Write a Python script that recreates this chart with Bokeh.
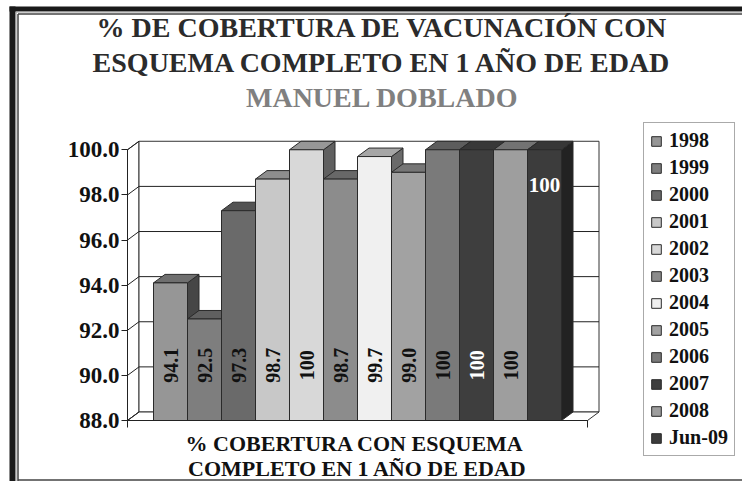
import math
from bokeh.plotting import figure
from bokeh.models import (Range1d, LinearAxis, FixedTicker, PrintfTickFormatter,
                          CustomJSTickFormatter, ColumnDataSource, Label, Legend, LegendItem)
from bokeh.core.properties import value
from bokeh.embed import file_html
from bokeh.resources import INLINE

# ---------------- data ----------------
years = ["1998", "1999", "2000", "2001", "2002", "2003", "2004", "2005",
         "2006", "2007", "2008", "Jun-09"]
coverage = [94.1, 92.5, 97.3, 98.7, 100, 98.7, 99.7, 99.0, 100, 100, 100, 100]
value_labels = ["94.1", "92.5", "97.3", "98.7", "100", "98.7", "99.7", "99.0",
                "100", "100", "100", "100"]
y_ticks = [88, 90, 92, 94, 96, 98, 100]
title_lines = ["% DE COBERTURA DE VACUNACIÓN CON",
               "ESQUEMA COMPLETO EN 1 AÑO DE EDAD",
               "MANUEL DOBLADO"]
x_label_lines = ["%  COBERTURA CON ESQUEMA", "COMPLETO EN 1 AÑO DE EDAD"]

# ---------------- styles ----------------
face_colors = ["#969696", "#7e7e7e", "#6a6a6a", "#c8c8c8", "#d8d8d8", "#8c8c8c",
               "#f0f0f0", "#a2a2a2", "#7a7a7a", "#3e3e3e", "#9e9e9e", "#3c3c3c"]
label_colors = ["#111111"] * 9 + ["#ffffff", "#111111", "#ffffff"]
FONT = "Liberation Serif"


def shade(c, k, b):
    v = int(c[1:3], 16)
    n = max(0, min(255, int(v * k + b)))
    return "#%02x%02x%02x" % (n, n, n)


top_colors = [shade(c, 0.62, 18) for c in face_colors]
side_colors = [shade(c, 0.4, 10) for c in face_colors]

# ---------------- layout (pixels) ----------------
W, H = 742, 481
AX0, AY0 = 127, 420          # pixel of the front-left floor corner (value 88)
PX_X, PX_Y = 34.0, 22.56     # pixels per bar unit / per percentage point
Y0 = y_ticks[0]


def X(px):
    return (px - AX0) / PX_X


def Y(py):
    return Y0 + (AY0 - py) / PX_Y


DX = 11.5 / PX_X
DY = 8.5 / PX_Y
GAP = 26 / PX_X
n = len(coverage)
F = 2 * GAP + n
YT = y_ticks[-1]

p = figure(width=W, height=H, x_range=Range1d(X(0), X(W)), y_range=Range1d(Y(H), Y(0)),
           output_backend="svg", toolbar_location=None,
           x_axis_location=None, y_axis_location=None, min_border=0,
           outline_line_color=None, background_fill_color="white",
           border_fill_color="white")
p.grid.visible = False

# page frame
p.quad(left=X(9), right=X(15), bottom=Y(H + 5), top=Y(6), fill_color="#1a1a1a", line_color=None)
p.quad(left=X(9), right=X(W + 5), bottom=Y(11), top=Y(6), fill_color="#1a1a1a", line_color=None)
p.line([X(15.5), X(15.5)], [Y(H + 5), Y(11.5)], line_color="#9a9a9a", line_width=1)
p.line([X(15.5), X(W + 5)], [Y(11.5), Y(11.5)], line_color="#9a9a9a", line_width=1)
p.line([X(17.5), X(17.5)], [Y(H + 5), Y(13.5)], line_color="#444444", line_width=1.5)
p.line([X(17.5), X(W + 5)], [Y(13.5), Y(13.5)], line_color="#444444", line_width=1.5)
p.line([X(17.5), X(W + 5)], [Y(479.5), Y(479.5)], line_color="#444444", line_width=1.5)

# walls
wall = dict(fill_color="white", line_color="#333333", line_width=1)
p.patch([0, 0, DX, DX], [Y0, YT, YT + DY, Y0 + DY], **wall)
p.quad(left=DX, right=F + DX, bottom=Y0 + DY, top=YT + DY, **wall)
p.patch([0, F, F + DX, DX], [Y0, Y0, Y0 + DY, Y0 + DY], **wall)
grid_t = y_ticks[1:-1]
p.segment(x0=[DX] * len(grid_t), x1=[F + DX] * len(grid_t),
          y0=[t + DY for t in grid_t], y1=[t + DY for t in grid_t],
          line_color="#222222", line_width=1)
p.segment(x0=[0] * len(y_ticks), x1=[DX] * len(y_ticks),
          y0=y_ticks, y1=[t + DY for t in y_ticks], line_color="#222222", line_width=1)

# bars (3D: sides, tops, fronts)
lefts = [GAP + i for i in range(n)]
rights = [l + 1 for l in lefts]
side_src = ColumnDataSource(dict(
    xs=[[r, r + DX, r + DX, r] for r in rights],
    ys=[[Y0, Y0 + DY, v + DY, v] for v in coverage],
    c=side_colors))
top_src = ColumnDataSource(dict(
    xs=[[l, r, r + DX, l + DX] for l, r in zip(lefts, rights)],
    ys=[[v, v, v + DY, v + DY] for v in coverage],
    c=top_colors))
p.patches("xs", "ys", source=side_src, fill_color="c", line_color="#2a2a2a", line_width=1)
p.patches("xs", "ys", source=top_src, fill_color="c", line_color="#2a2a2a", line_width=1)
front_src = ColumnDataSource(dict(left=lefts, right=rights, top=coverage,
                                  bottom=[Y0] * n, c=face_colors, year=years))
fronts = p.quad(left="left", right="right", top="top", bottom="bottom", source=front_src,
                fill_color="c", line_color="#2a2a2a", line_width=1)

# value labels
centers = [l + 0.5 for l in lefts]
rot_src = ColumnDataSource(dict(x=centers[:-1], y=[90.45] * (n - 1),
                                t=value_labels[:-1], c=label_colors[:-1]))
p.text("x", "y", text="t", source=rot_src, angle=math.pi / 2, text_color="c",
       text_font=value(FONT), text_font_style="bold", text_font_size="20px",
       text_align="center", text_baseline="middle")
p.add_layout(Label(x=centers[-1], y=98.42, text=value_labels[-1], text_color=label_colors[-1],
                   text_font=FONT, text_font_style="bold", text_font_size="21px",
                   text_align="center", text_baseline="middle"))

# axes
yaxis = LinearAxis(fixed_location=0, ticker=FixedTicker(ticks=y_ticks),
                   formatter=PrintfTickFormatter(format="%.1f"), bounds=(Y0, YT),
                   axis_line_color="#222222", major_tick_line_color="#222222",
                   major_tick_in=0, major_tick_out=6, minor_tick_line_color=None,
                   major_label_standoff=2, major_label_text_font=FONT,
                   major_label_text_font_style="bold", major_label_text_font_size="23px",
                   major_label_text_color="#111111")
p.add_layout(yaxis, "left")
xaxis = LinearAxis(fixed_location=Y0, ticker=FixedTicker(ticks=[0, F]), bounds=(0, F),
                   formatter=CustomJSTickFormatter(code="return ''"),
                   axis_line_color="#222222", major_tick_line_color="#222222",
                   major_tick_in=0, major_tick_out=7, minor_tick_line_color=None)
p.add_layout(xaxis, "below")

# titles
title_colors = ["#2b2b2b", "#2b2b2b", "#808080"]
for i, (t, c) in enumerate(zip(title_lines, title_colors)):
    p.add_layout(Label(x=X(382), y=Y(27 + 35 * i), text=t, text_color=c,
                       text_font=FONT, text_font_style="bold", text_font_size="28px",
                       text_align="center", text_baseline="middle"))
for i, t in enumerate(x_label_lines):
    p.add_layout(Label(x=F / 2, y=Y(443 + 24.5 * i), text=t, text_color="#111111",
                       text_font=FONT, text_font_style="bold", text_font_size="22px",
                       text_align="center", text_baseline="middle"))

# legend
items = [LegendItem(label=years[i], renderers=[fronts], index=i) for i in range(n)]
legend = Legend(items=items, location=(643, 25), orientation="vertical",
                label_text_font=FONT, label_text_font_style="bold",
                label_text_font_size="20px", label_text_color="#111111",
                glyph_width=12, glyph_height=12, label_standoff=7, padding=6,
                spacing=4, label_height=20, margin=0,
                border_line_color="#555555", border_line_width=1,
                background_fill_color="white", background_fill_alpha=1)
p.add_layout(legend)

open("out.html", "w").write(file_html(p, INLINE))
